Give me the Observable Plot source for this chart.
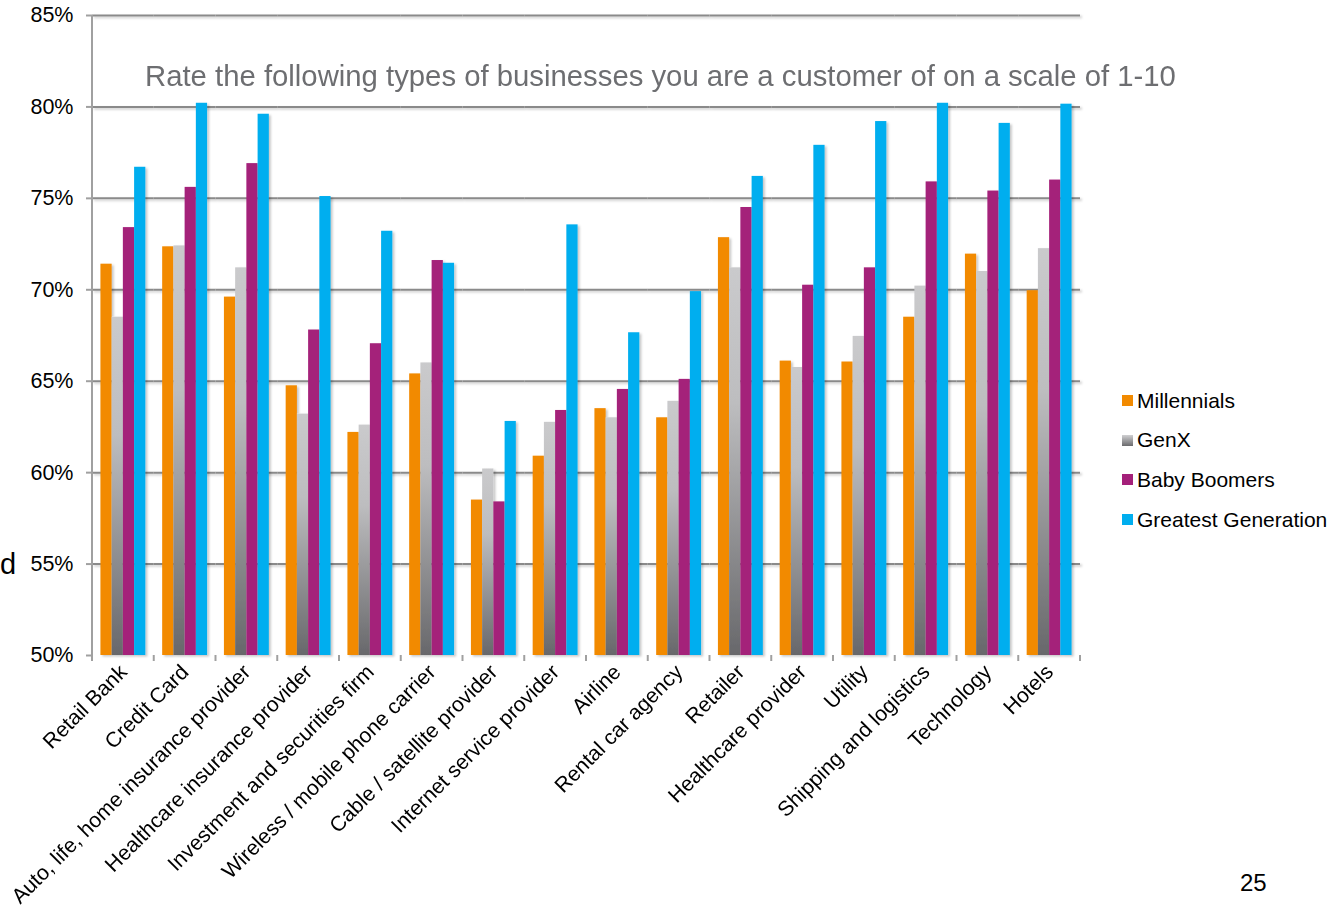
<!DOCTYPE html>
<html>
<head>
<meta charset="utf-8">
<script src="https://cdn.jsdelivr.net/npm/d3@7"></script>
<script src="https://cdn.jsdelivr.net/npm/@observablehq/plot@0.6"></script>
<style>
  body { margin: 0; background: #fff; font-family: Arial, "Liberation Sans", sans-serif; }
  #wrap { position: relative; width: 1335px; height: 914px; overflow: hidden; background: #fff; }
  #chart { position: absolute; left: 0; top: 0; }
  .title { position: absolute; left: 145px; top: 59px; font-size: 29.3px; color: #6d6e71; white-space: nowrap; }
  .legend { position: absolute; left: 1122px; top: 381px; font-size: 21px; color: #000; }
  .legend .item { height: 39.6px; display: flex; align-items: center; white-space: nowrap; }
  .legend .sw { width: 11px; height: 11px; margin-right: 4px; display: inline-block; }
  .page { position: absolute; left: 1240px; top: 869px; font-size: 24px; color: #000; }
  .cut { position: absolute; left: 0px; top: 548px; font-size: 29px; color: #000; }
</style>
</head>
<body>
<div id="wrap">
  <div id="chart"></div>
  <div class="title">Rate the following types of businesses you are a customer of on a scale of 1-10</div>
  <div class="legend" id="legend"></div>
  <div class="page">25</div>
  <div class="cut">d</div>
</div>
<script>
const categories = [
  "Retail Bank", "Credit Card", "Auto, life, home insurance provider",
  "Healthcare insurance provider", "Investment and securities firm",
  "Wireless / mobile phone carrier", "Cable / satellite provider",
  "Internet service provider", "Airline", "Rental car agency", "Retailer",
  "Healthcare provider", "Utility", "Shipping and logistics", "Technology", "Hotels"
];
const series = ["Millennials", "GenX", "Baby Boomers", "Greatest Generation"];
const millennials = [71.4, 72.35, 69.6, 64.75, 62.2, 65.4, 58.5, 60.9, 63.5, 63.0, 72.85, 66.1, 66.05, 68.5, 71.95, 69.95];
const genX        = [68.5, 72.4, 71.2, 63.2, 62.6, 66.0, 60.2, 62.75, 63.0, 63.9, 71.2, 65.75, 67.45, 70.2, 71.0, 72.25];
const boomers     = [73.4, 75.6, 76.9, 67.8, 67.05, 71.6, 58.4, 63.4, 64.55, 65.1, 74.5, 70.25, 71.2, 75.9, 75.4, 76.0];
const greatest    = [76.7, 80.2, 79.6, 75.1, 73.2, 71.45, 62.8, 73.55, 67.65, 69.9, 76.2, 77.9, 79.2, 80.2, 79.1, 80.15];
const yTicks = [50, 55, 60, 65, 70, 75, 80, 85];
const colors = ["#f28a00", "url(#genxGrad)", "#a4207a", "#00aeef"];

const seriesValues = [millennials, genX, boomers, greatest];
const data = categories.flatMap((c, i) =>
  series.map((s, j) => ({category: c, series: s, value: seriesValues[j][i]}))
);

const chart = Plot.plot({
  width: 1335,
  height: 914,
  marginLeft: 92,
  marginRight: 255,
  marginTop: 15,
  marginBottom: 259,
  style: {fontFamily: 'Arial, "Liberation Sans", sans-serif', fontSize: "21px", color: "#000", background: "transparent", overflow: "visible"},
  fx: {domain: categories, padding: 0, round: false, label: null},
  x: {domain: series, paddingInner: 0, paddingOuter: 0.75, round: false, axis: null},
  y: {domain: [50, 85], label: null},
  color: {type: "ordinal", domain: series, range: colors},
  marks: [
    Plot.ruleY(yTicks.slice(1), {stroke: "#8a8a8a", strokeWidth: 2}),
    Plot.barY(data, {fx: "category", x: "series", y1: 50, y2: "value", fill: "series"}),
    Plot.ruleY([50], {stroke: "#a0a0a0", strokeWidth: 2}),
    Plot.axisY({ticks: yTicks, tickFormat: d => d + "%", tickSize: 6, tickPadding: 13, fontSize: 21.5, stroke: "#a0a0a0", strokeWidth: 2, fill: "#000", label: null}),
    Plot.axisFx({anchor: "bottom", tickRotate: -45, tickSize: 0, tickPadding: 13, fontSize: 21.2, fill: "#000", label: null})
  ]
});

document.getElementById("chart").appendChild(chart);

// gradient and shadow definitions
const svg = d3.select(chart);
const defs = svg.insert("defs", ":first-child");
const grad = defs.append("linearGradient").attr("id", "genxGrad").attr("x1", 0).attr("y1", 0).attr("x2", 0).attr("y2", 1);
grad.append("stop").attr("offset", "0%").attr("stop-color", "#cacacc");
grad.append("stop").attr("offset", "35%").attr("stop-color", "#bdbdbf");
grad.append("stop").attr("offset", "100%").attr("stop-color", "#68686b");
const f = defs.append("filter").attr("id", "shadow").attr("x", "-20%").attr("y", "-5%").attr("width", "160%").attr("height", "115%");
f.append("feDropShadow").attr("dx", 2).attr("dy", 1.5).attr("stdDeviation", 1.2).attr("flood-color", "#000").attr("flood-opacity", 0.22);
svg.selectAll('g[aria-label="bar"]').attr("filter", "url(#shadow)");
svg.selectAll('g[aria-label="rule"]').attr("filter", "url(#shadow)");

// category boundary ticks and left axis line, from the library's scales
const fx = chart.scale("fx");
const y = chart.scale("y");
const edges = categories.map(c => fx.apply(c));
edges.push(fx.apply(categories[categories.length - 1]) + fx.bandwidth);
const y0 = y.apply(50), yTop = y.apply(85);
const g = svg.append("g").attr("stroke", "#a0a0a0").attr("stroke-width", 2);
g.selectAll("line.edge").data(edges).join("line")
  .attr("x1", d => d).attr("x2", d => d).attr("y1", y0).attr("y2", y0 + 6);
g.append("line").attr("x1", edges[0]).attr("x2", edges[0]).attr("y1", yTop).attr("y2", y0);

// legend
const legend = d3.select("#legend");
series.forEach((s, i) => {
  const item = legend.append("div").attr("class", "item");
  item.append("span").attr("class", "sw")
    .style("background", i === 1 ? "linear-gradient(#d0d0d2, #6a6a6d)" : colors[i]);
  item.append("span").text(s);
});
</script>
</body>
</html>
